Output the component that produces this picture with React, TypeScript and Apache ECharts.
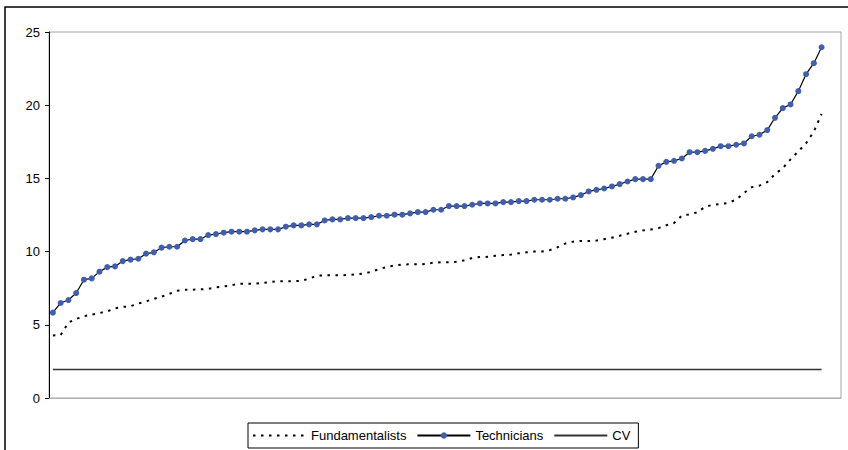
import React, { useEffect, useRef } from "react";
import * as echarts from "echarts";

const categories: string[] = [
  "1","2","3","4","5","6","7","8","9","10",
  "11","12","13","14","15","16","17","18","19","20",
  "21","22","23","24","25","26","27","28","29","30",
  "31","32","33","34","35","36","37","38","39","40",
  "41","42","43","44","45","46","47","48","49","50",
  "51","52","53","54","55","56","57","58","59","60",
  "61","62","63","64","65","66","67","68","69","70",
  "71","72","73","74","75","76","77","78","79","80",
  "81","82","83","84","85","86","87","88","89","90",
  "91","92","93","94","95","96","97","98","99","100",
];

const fundamentalists: number[] = [
  4.27, 4.3, 5.15, 5.4, 5.58, 5.7, 5.8, 5.92, 6.12, 6.22,
  6.27, 6.45, 6.6, 6.77, 6.92, 7.12, 7.32, 7.4, 7.4, 7.42,
  7.46, 7.55, 7.62, 7.7, 7.8, 7.81, 7.81, 7.85, 7.93, 7.97,
  7.98, 7.98, 8.0, 8.15, 8.35, 8.38, 8.38, 8.38, 8.4, 8.45,
  8.5, 8.62, 8.8, 8.95, 9.05, 9.12, 9.13, 9.13, 9.15, 9.24,
  9.27, 9.28, 9.3, 9.4, 9.56, 9.63, 9.64, 9.72, 9.76, 9.8,
  9.88, 9.95, 10.0, 10.01, 10.1, 10.3, 10.55, 10.68, 10.73, 10.72,
  10.75, 10.85, 10.95, 11.08, 11.22, 11.35, 11.45, 11.51, 11.6, 11.8,
  11.95, 12.45, 12.55, 12.68, 13.06, 13.2, 13.25, 13.33, 13.55, 14.0,
  14.4, 14.5, 14.75, 15.3, 15.7, 16.3, 16.85, 17.4, 18.2, 19.4,
];

const technicians: number[] = [
  5.83, 6.49, 6.69, 7.17, 8.08, 8.17, 8.63, 8.94, 8.99, 9.35,
  9.45, 9.51, 9.86, 9.95, 10.27, 10.33, 10.33, 10.76, 10.85, 10.85,
  11.13, 11.2, 11.29, 11.36, 11.36, 11.36, 11.45, 11.52, 11.52, 11.52,
  11.7, 11.79, 11.79, 11.86, 11.86, 12.13, 12.2, 12.2, 12.29, 12.29,
  12.29, 12.36, 12.45, 12.45, 12.52, 12.52, 12.61, 12.7, 12.7, 12.86,
  12.86, 13.11, 13.11, 13.11, 13.2, 13.29, 13.29, 13.29, 13.38, 13.38,
  13.45, 13.45, 13.54, 13.54, 13.54, 13.61, 13.61, 13.7, 13.86, 14.11,
  14.22, 14.31, 14.45, 14.61, 14.79, 14.95, 14.95, 14.95, 15.86, 16.13,
  16.2, 16.36, 16.79, 16.79, 16.88, 17.02, 17.2, 17.2, 17.3, 17.39,
  17.88, 17.98, 18.3, 19.14, 19.8, 20.05, 20.96, 22.12, 22.87, 23.96,
];

const cv: number[] = [
  1.94, 1.94, 1.94, 1.94, 1.94, 1.94, 1.94, 1.94, 1.94, 1.94,
  1.94, 1.94, 1.94, 1.94, 1.94, 1.94, 1.94, 1.94, 1.94, 1.94,
  1.94, 1.94, 1.94, 1.94, 1.94, 1.94, 1.94, 1.94, 1.94, 1.94,
  1.94, 1.94, 1.94, 1.94, 1.94, 1.94, 1.94, 1.94, 1.94, 1.94,
  1.94, 1.94, 1.94, 1.94, 1.94, 1.94, 1.94, 1.94, 1.94, 1.94,
  1.94, 1.94, 1.94, 1.94, 1.94, 1.94, 1.94, 1.94, 1.94, 1.94,
  1.94, 1.94, 1.94, 1.94, 1.94, 1.94, 1.94, 1.94, 1.94, 1.94,
  1.94, 1.94, 1.94, 1.94, 1.94, 1.94, 1.94, 1.94, 1.94, 1.94,
  1.94, 1.94, 1.94, 1.94, 1.94, 1.94, 1.94, 1.94, 1.94, 1.94,
  1.94, 1.94, 1.94, 1.94, 1.94, 1.94, 1.94, 1.94, 1.94, 1.94,
];

const yTicks: number[] = [0, 5, 10, 15, 20, 25];

const FONT = "'Liberation Sans', Arial, sans-serif";

export default function App() {
  const ref = useRef<HTMLDivElement>(null);

  useEffect(() => {
    document.body.style.margin = "0";
    if (!ref.current) return;
    const chart = echarts.init(ref.current, null, { renderer: "svg" });
    chart.setOption({
      animation: false,
      backgroundColor: "#ffffff",
      textStyle: { fontFamily: FONT },
      graphic: [
        {
          type: "rect",
          z: 100,
          silent: true,
          shape: { x: 5, y: 7, width: 900, height: 500 },
          style: { fill: "none", stroke: "#000000", lineWidth: 1.5 },
        },
      ],
      grid: {
        left: 49,
        top: 32,
        right: 7,
        bottom: 52,
        show: true,
        borderColor: "#a6a6a6",
        borderWidth: 1,
        backgroundColor: "transparent",
      },
      legend: {
        left: 248,
        top: 423,
        orient: "horizontal",
        itemWidth: 53,
        itemHeight: 8,
        itemGap: 10,
        padding: [6, 8, 6, 4],
        borderColor: "#000000",
        borderWidth: 1,
        textStyle: { fontFamily: FONT, fontSize: 13, color: "#000000" },
        data: [
          { name: "Fundamentalists", itemStyle: { opacity: 0 } },
          { name: "Technicians" },
          { name: "CV", itemStyle: { opacity: 0 } },
        ],
      },
      xAxis: {
        type: "category",
        data: categories,
        max: 101,
        boundaryGap: true,
        axisLine: { show: true, lineStyle: { color: "#b0b0b0", width: 1 } },
        axisTick: { show: false },
        axisLabel: { show: false },
        splitLine: { show: false },
      },
      yAxis: {
        type: "value",
        min: yTicks[0],
        max: yTicks[yTicks.length - 1],
        interval: yTicks[1] - yTicks[0],
        axisLine: { show: true, lineStyle: { color: "#000000", width: 1 } },
        axisTick: { show: true, length: 4, inside: false, lineStyle: { color: "#000000" } },
        axisLabel: { color: "#000000", fontSize: 13, fontFamily: FONT, margin: 9 },
        splitLine: { show: false },
      },
      series: [
        {
          name: "Fundamentalists",
          type: "line",
          data: fundamentalists,
          showSymbol: false,
          symbol: "none",
          color: "#000000",
          lineStyle: { color: "#000000", width: 2, type: [2.5, 5.5] },
        },
        {
          name: "Technicians",
          type: "line",
          data: technicians,
          symbol: "circle",
          symbolSize: 6,
          showSymbol: true,
          showAllSymbol: true,
          color: "#3f5eaf",
          itemStyle: { color: "#3f5eaf", borderWidth: 0 },
          lineStyle: { color: "#000000", width: 1.2 },
        },
        {
          name: "CV",
          type: "line",
          data: cv,
          showSymbol: false,
          symbol: "none",
          color: "#333333",
          lineStyle: { color: "#333333", width: 1.5 },
        },
      ],
    });
    return () => chart.dispose();
  }, []);

  return <div ref={ref} style={{ width: 848, height: 450 }} />;
}
